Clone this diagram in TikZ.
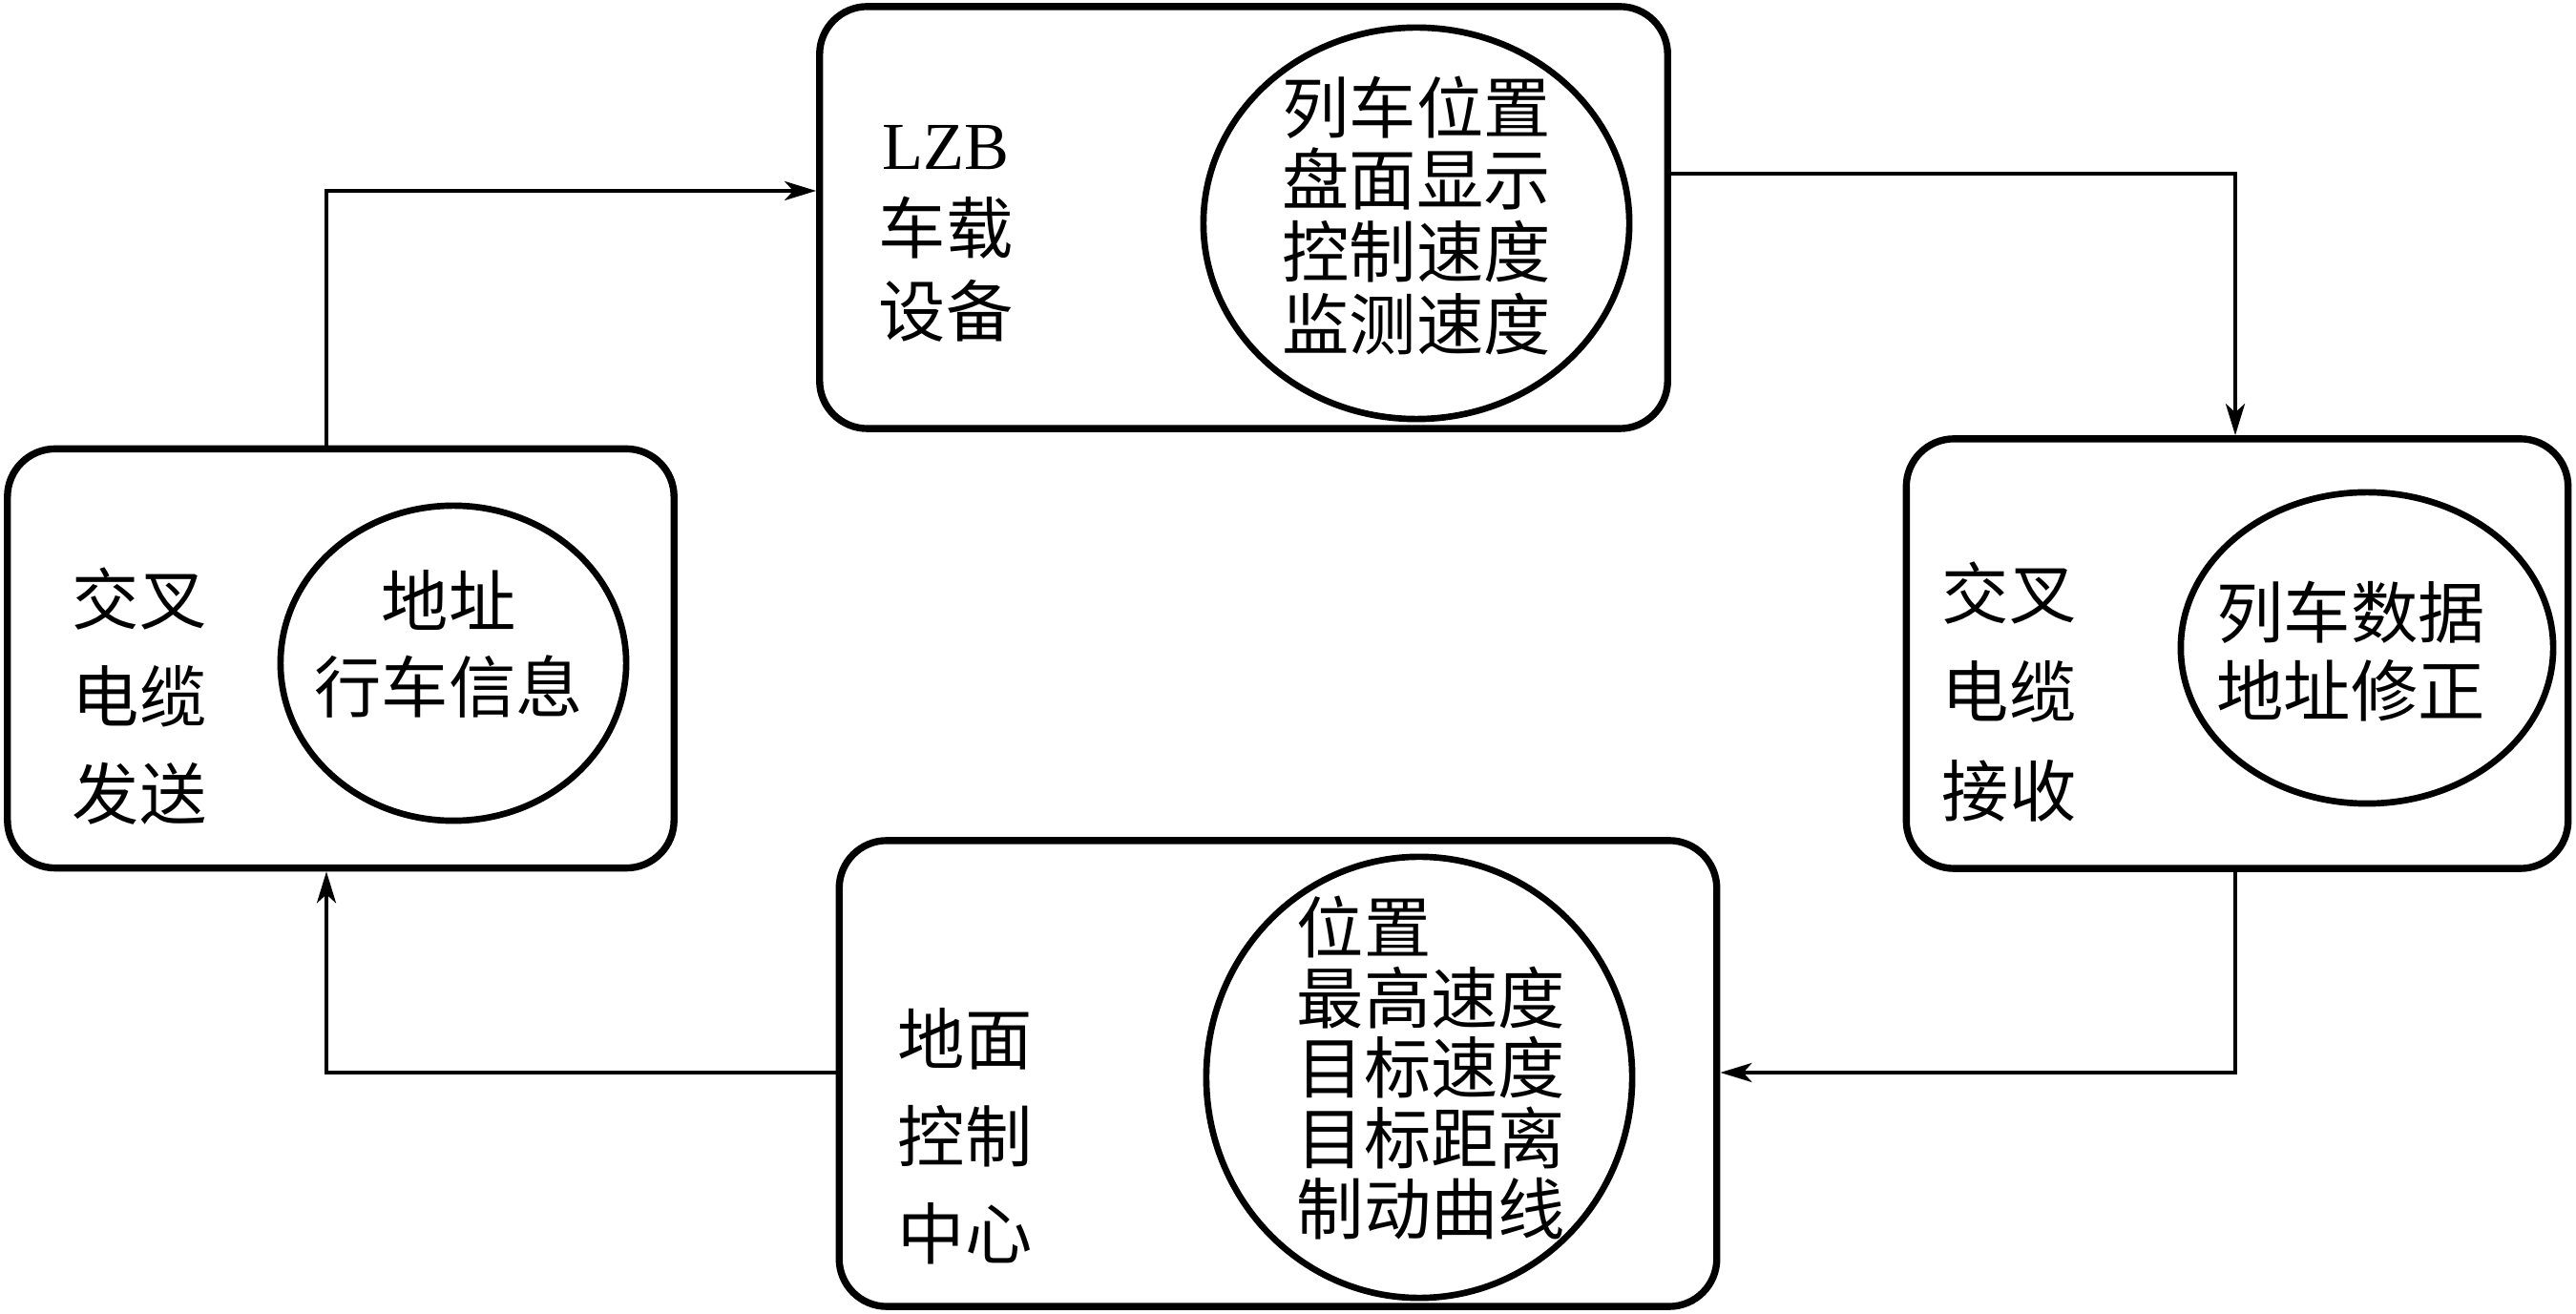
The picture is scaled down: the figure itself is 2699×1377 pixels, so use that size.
\documentclass[tikz,border=0pt]{standalone}
\usepackage{fontspec}
\setmainfont{Liberation Serif}
\newfontfamily\cjk{Noto Sans CJK SC}
\usetikzlibrary{positioning,arrows.meta}
\usetikzlibrary{shapes.geometric}

\begin{document}
\begin{tikzpicture}[x=0.01cm,y=-0.01cm,>={Stealth[length=0.33cm,width=0.2cm,inset=0.09cm]},
  unit/.style={draw,line width=2.1pt,rounded corners=0.5cm,inner sep=0pt},
  oval/.style={draw,ellipse,line width=1.9pt,inner sep=0pt},
  lbl/.style={font=\cjk\fontsize{20pt}{#1}\selectfont,align=center,inner sep=0pt},
  link/.style={->,line width=1.1pt}]
  \useasboundingbox (0,0) rectangle (2699,1377);
  \node[unit,minimum width=8.88cm,minimum height=4.42cm] (onboard) at (1303,228) {};
  \node[oval,minimum width=4.46cm,minimum height=4.10cm] (onboardoval) at (1484,234) {};
  \node[lbl=24.8pt] (onboardname) at (991,245) {{\rmfamily LZB}\\车载\\设备};
  \node[lbl=21.6pt] (onboardinfo) at (1484,226) {列车位置\\盘面显示\\控制速度\\监测速度};

  \node[unit,minimum width=6.98cm,minimum height=4.39cm] (sender) at (357,690) {};
  \node[oval,minimum width=3.62cm,minimum height=3.30cm] (senderoval) at (475,695) {};
  \node[lbl=29pt] (sendername) at (146,730) {交叉\\电缆\\发送};
  \node[lbl=25.6pt] (senderinfo) at (470,675) {地址\\行车信息};

  \node[unit,minimum width=6.93cm,minimum height=4.50cm] (receiver) at (2344,685) {};
  \node[oval,minimum width=3.90cm,minimum height=3.26cm] (receiveroval) at (2480,679) {};
  \node[lbl=29.3pt] (receivername) at (2105,725) {交叉\\电缆\\接收};
  \node[lbl=23.3pt] (receiverinfo) at (2463,683) {列车数据\\地址修正};

  \node[unit,minimum width=9.19cm,minimum height=4.88cm] (ground) at (1339,1125) {};
  \node[oval,minimum width=4.46cm,minimum height=4.62cm] (groundoval) at (1487,1129) {};
  \node[lbl=29pt] (groundname) at (1011,1191) {地面\\控制\\中心};
  \node[lbl=21pt,align=left,anchor=west] (groundinfo) at (1358,1119) {位置\\最高速度\\目标速度\\目标距离\\制动曲线};

  \coordinate (up) at (342,200);
  \coordinate (over) at (2342,182);
  \coordinate (down) at (2342,1124);
  \coordinate (back) at (342,1124);
  \draw[link] (sender.north -| up) -- (up) -- (up -| onboard.west);
  \draw[link] (onboard.east |- over) -- (over) -- (receiver.north -| over);
  \draw[link] (receiver.south -| down) -- (down) -- (down -| ground.east);
  \draw[link] (ground.west |- back) -- (back) -- (sender.south -| back);
\end{tikzpicture}
\end{document}
